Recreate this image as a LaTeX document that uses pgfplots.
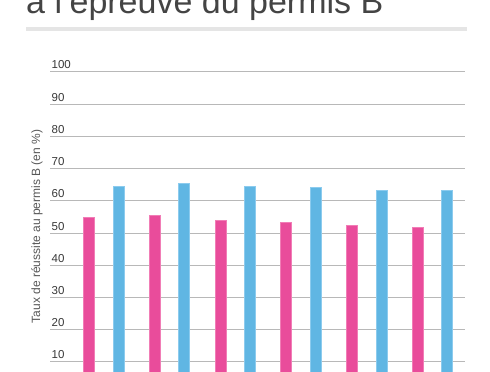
\documentclass[border=0pt]{standalone}
\usepackage{pgfplots}
\pgfplotsset{compat=1.18}
\usepackage{fontspec}
\setmainfont{Liberation Sans}
\definecolor{barpink}{HTML}{E94C9B}
\definecolor{barpinkedge}{HTML}{F17DB6}
\definecolor{barblue}{HTML}{60B6E3}
\definecolor{barblueedge}{HTML}{8CCBEE}
\definecolor{gridgray}{HTML}{B8B8B8}
\definecolor{rulegray}{HTML}{E5E5E5}
\definecolor{textgray}{HTML}{444444}
\begin{document}
\begin{tikzpicture}[x=1pt,y=1pt]
\useasboundingbox (0,0) rectangle (490,372);
\clip (0,0) rectangle (490,372);
\node[anchor=base west, inner sep=0pt, text=textgray, font=\fontsize{34}{40}\selectfont] at (26,358.5) {à l'épreuve du permis B};
\fill[rulegray] (26,341) rectangle (467,345);
\node[rotate=90, text=textgray!90, font=\fontsize{12}{14}\selectfont, inner sep=0pt] at (37,145.5) {Taux de réussite au permis B (en \%)};
\begin{axis}[
  at={(50pt,-22.2pt)}, anchor=south west,
  scale only axis, width=415pt, height=322.2pt,
  xmin=-0.8175, xmax=5.494, ymin=0, ymax=100,
  axis line style={draw=none},
  tick style={draw=none},
  xtick=\empty,
  ytick={10,20,30,40,50,60,70,80,90,100},
  ymajorgrids,
  grid style={gridgray, line width=1pt},
  /pgf/number format/assume math mode=true,
  yticklabel style={anchor=base west, xshift=1.5pt, yshift=3pt, inner sep=0pt, text=black!78, font=\fontsize{11.5}{13}\selectfont},
  yticklabel={\pgfmathprintnumber{\tick}},
]
\addplot[ybar, bar width=11pt, bar shift=-14.75pt, fill=barpink, draw=barpinkedge, line width=1pt]
  coordinates {(0,54.7)(1,55.4)(2,54.0)(3,53.3)(4,52.3)(5,51.8)};
\addplot[ybar, bar width=11pt, bar shift=14.75pt, fill=barblue, draw=barblueedge, line width=1pt]
  coordinates {(0,64.5)(1,65.5)(2,64.4)(3,64.1)(4,63.2)(5,63.2)};
\end{axis}
\end{tikzpicture}
\end{document}
